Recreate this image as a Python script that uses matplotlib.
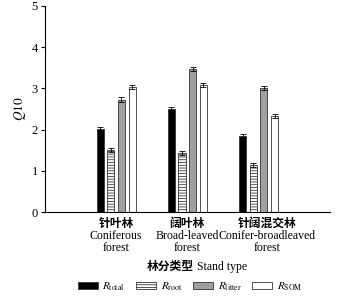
import matplotlib
matplotlib.use("Agg")
import matplotlib.pyplot as plt
import numpy as np

plt.rcParams['font.family'] = ['Liberation Serif', 'Noto Sans CJK SC']
plt.rcParams['mathtext.fontset'] = 'stix'
plt.rcParams['hatch.color'] = '#555555'
plt.rcParams['hatch.linewidth'] = 0.6

stands_cn = ['针叶林', '阔叶林', '针阔混交林']
stands_en = ['Coniferous\nforest', 'Broad-leaved\nforest', 'Conifer-broadleaved\nforest']
series = [r'$R_{\rm total}$', r'$R_{\rm root}$', r'$R_{\rm litter}$', r'$R_{\rm SOM}$']
q10 = [
    [2.01, 2.50, 1.84],   # total
    [1.50, 1.44, 1.15],   # root
    [2.73, 3.46, 3.00],   # litter
    [3.04, 3.09, 2.33],   # SOM
]
err = [
    [0.05, 0.05, 0.05],
    [0.05, 0.05, 0.05],
    [0.05, 0.05, 0.05],
    [0.05, 0.05, 0.05],
]

colors = ['black', 'white', '#a0a0a0', 'white']
hatches = [None, '------', None, None]

fig = plt.figure(figsize=(3.4, 2.97), dpi=100)
ax = fig.add_axes([0.132, 0.286, 0.838, 0.694])

x = np.arange(len(stands_cn))
w = 0.1
offs = [-0.225, -0.075, 0.075, 0.225]
for i in range(4):
    ax.bar(x + offs[i], q10[i], w, yerr=err[i], color=colors[i], hatch=hatches[i],
           edgecolor='#333333', linewidth=0.6, label=series[i],
           error_kw=dict(ecolor='black', elinewidth=0.6, capsize=2, capthick=0.6))

ax.set_xlim(-1, 3)
ax.set_ylim(0, 5)
ax.set_yticks([0, 1, 2, 3, 4, 5])
ax.set_xticks(x)
ax.set_xticklabels([])
ax.tick_params(axis='x', length=0)
ax.tick_params(axis='y', labelsize=9, length=3, width=0.8, direction='out', pad=2)
ax.spines['top'].set_visible(False)
ax.spines['right'].set_visible(False)
ax.set_ylabel('$Q10$', fontsize=9.5, labelpad=3)

# category labels: bold Chinese line over English lines
shift = [0, 0, 0.12]
for i in range(len(x)):
    ax.annotate(stands_cn[i], xy=(x[i] + shift[i], 0), xycoords=('data', 'axes fraction'),
                xytext=(0, -4), textcoords='offset points', ha='center', va='top',
                fontsize=8.5, fontweight='bold')
    ax.annotate(stands_en[i], xy=(x[i] + shift[i], 0), xycoords=('data', 'axes fraction'),
                xytext=(0, -13), textcoords='offset points', ha='center', va='top',
                fontsize=8.5, linespacing=1.0)

t1 = ax.text(0.44, -0.265, '林分类型', transform=ax.transAxes, ha='center', va='center',
             fontsize=8.5, fontweight='bold')
ax.annotate(' Stand type', xy=(1, 0), xycoords=t1, ha='left', va='bottom', fontsize=8.5)

ax.legend(loc='center', bbox_to_anchor=(0.51, -0.36), ncol=4, frameon=False,
          fontsize=8, handlelength=1.8, handleheight=0.6, columnspacing=1.0,
          handletextpad=0.4, borderaxespad=0)

fig.savefig('out.png', dpi=100)
